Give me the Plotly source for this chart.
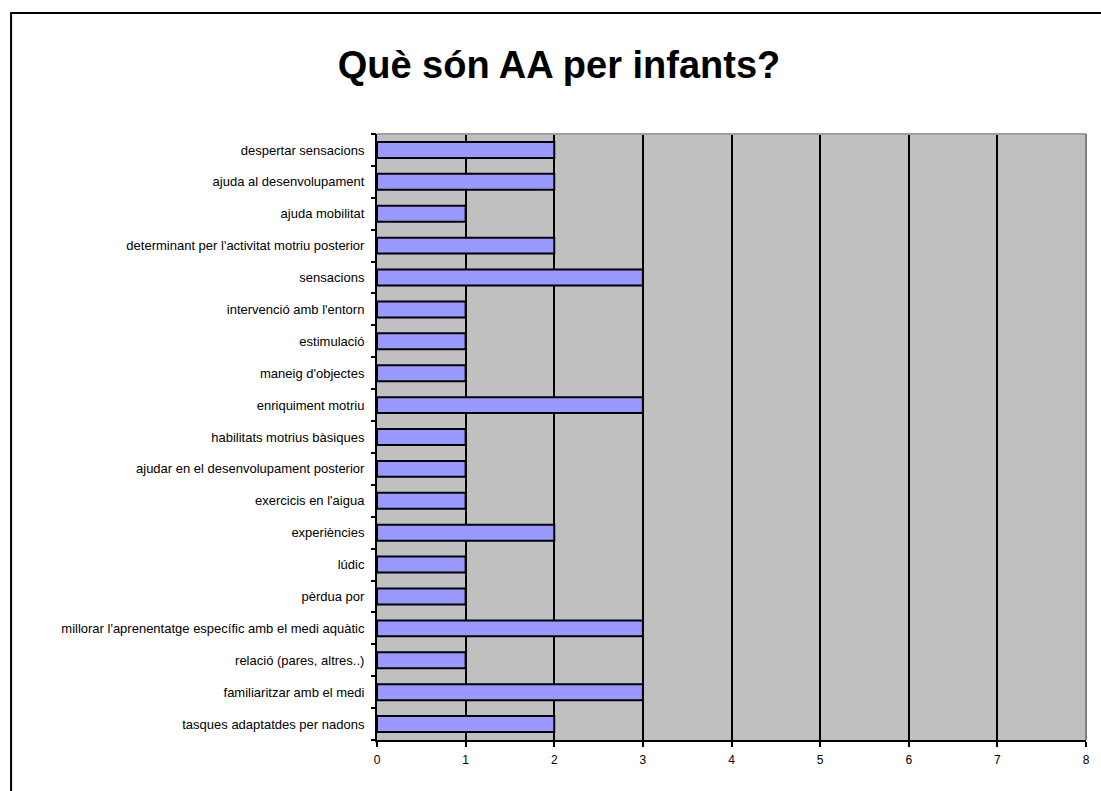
import plotly.graph_objects as go

title_text = "Què són AA per infants?"

categories = [
    "despertar sensacions",
    "ajuda al desenvolupament",
    "ajuda mobilitat",
    "determinant per l'activitat motriu posterior",
    "sensacions",
    "intervenció amb l'entorn",
    "estimulació",
    "maneig d'objectes",
    "enriquiment motriu",
    "habilitats motrius bàsiques",
    "ajudar en el desenvolupament posterior",
    "exercicis en l'aigua",
    "experiències",
    "lúdic",
    "pèrdua por",
    "millorar l'aprenentatge específic amb el medi aquàtic",
    "relació (pares, altres..)",
    "familiaritzar amb el medi",
    "tasques adaptatdes per nadons",
]

values = [2, 2, 1, 2, 3, 1, 1, 1, 3, 1, 1, 1, 2, 1, 1, 3, 1, 3, 2]

x_ticks = [0, 1, 2, 3, 4, 5, 6, 7, 8]

FONT = "Liberation Sans, Arial, sans-serif"

n = len(categories)
boundaries = [i - 0.5 for i in range(n + 1)]

fig = go.Figure()
fig.add_trace(go.Bar(
    y=categories,
    x=values,
    orientation="h",
    width=0.5,
    marker=dict(color="#9999FF", line=dict(color="black", width=2)),
    showlegend=False,
    hoverinfo="x+y",
))

fig.update_layout(
    width=1101,
    height=791,
    margin=dict(l=377, r=11, t=134, b=51),
    paper_bgcolor="white",
    plot_bgcolor="#C0C0C0",
    font=dict(family=FONT, color="black", size=12),
    title=dict(
        text="<b>" + title_text + "</b>",
        font=dict(family=FONT, size=38, color="black"),
        x=559 / 1101, xref="container", xanchor="center",
        y=1 - 65 / 791, yref="container", yanchor="middle",
    ),
    xaxis=dict(
        range=[0, 8],
        tickvals=x_ticks,
        ticktext=[str(t) for t in x_ticks],
        showgrid=True,
        gridcolor="black",
        gridwidth=2,
        zeroline=False,
        showline=True,
        linecolor="black",
        linewidth=2,
        ticks="outside",
        ticklen=5,
        tickwidth=2,
        tickcolor="black",
        ticklabelstandoff=3,
        tickfont=dict(family=FONT, size=12, color="black"),
        fixedrange=True,
    ),
    yaxis=dict(
        type="category",
        categoryorder="array",
        categoryarray=categories,
        range=[n - 0.5, -0.5],
        showgrid=False,
        zeroline=False,
        showline=True,
        linecolor="black",
        linewidth=2,
        ticks="",
        ticklabelstandoff=8,
        tickfont=dict(family=FONT, size=13, color="black"),
        fixedrange=True,
    ),
    yaxis2=dict(
        type="linear",
        overlaying="y",
        anchor="x",
        side="left",
        range=[n - 0.5, -0.5],
        tickvals=boundaries,
        showticklabels=False,
        ticks="outside",
        ticklen=5,
        tickwidth=2,
        tickcolor="black",
        showgrid=False,
        zeroline=False,
        showline=False,
        fixedrange=True,
    ),
    shapes=[
        dict(type="line", xref="paper", yref="paper", x0=0, x1=1, y0=1, y1=1,
             line=dict(color="#A0A0A0", width=2), layer="above"),
        dict(type="line", xref="paper", yref="paper", x0=1, x1=1, y0=0, y1=1,
             line=dict(color="#808080", width=2), layer="above"),
        dict(type="rect", xref="paper", yref="paper",
             x0=(9 - 377) / 713, x1=1.2, y0=-0.3, y1=1 + (134 - 13) / 606,
             line=dict(color="black", width=2), fillcolor="rgba(0,0,0,0)",
             layer="above"),
    ],
)

fig.add_trace(go.Scatter(x=[None], y=[None], yaxis="y2", showlegend=False, hoverinfo="skip"))

fig.write_html(
    "out.html",
    config={"displayModeBar": False},
    post_script="document.body.style.margin='0';document.body.style.overflow='hidden';",
)
